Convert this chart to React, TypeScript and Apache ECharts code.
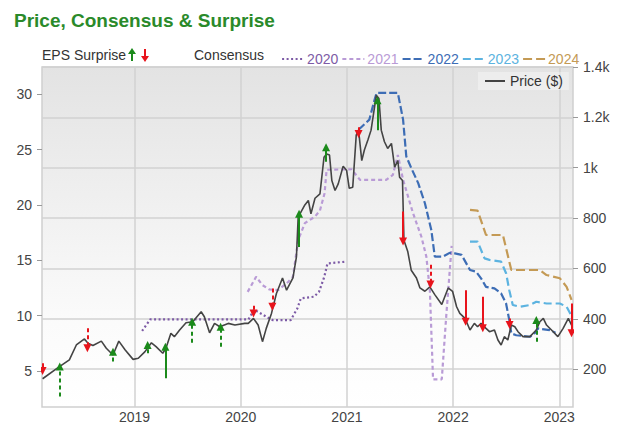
import React, { useEffect, useRef } from 'react';
import * as echarts from 'echarts';

// ---------- data ----------
const xStart = '2018-02-17';
const xEnd = '2023-02-17';
const yearTicks = [2019, 2020, 2021, 2022, 2023];
const priceTicks = [5, 10, 15, 20, 25, 30];
const consensusTicks = [200, 400, 600, 800, 1000, 1200, 1400];

const price: [string, number][] = [
  ['2018-02-19', 4.3], ['2018-04-13', 5.3], ['2018-05-22', 6.0], ['2018-06-15', 7.35], ['2018-07-13', 7.9],
  ['2018-07-25', 7.5], ['2018-08-11', 7.3], ['2018-09-09', 7.7], ['2018-09-26', 7.05], ['2018-10-19', 6.45],
  ['2018-11-08', 7.7], ['2018-11-30', 6.9], ['2018-12-27', 6.05], ['2019-01-14', 6.15], ['2019-02-06', 6.75],
  ['2019-02-28', 7.55], ['2019-03-16', 7.2], ['2019-04-08', 6.6], ['2019-04-19', 7.05], ['2019-05-06', 8.4],
  ['2019-05-18', 8.1], ['2019-06-05', 8.7], ['2019-06-27', 9.35], ['2019-07-20', 9.45], ['2019-08-18', 10.35],
  ['2019-08-29', 9.9], ['2019-09-16', 8.45], ['2019-10-03', 9.3], ['2019-10-21', 9.0], ['2019-11-19', 9.3],
  ['2019-12-12', 9.15], ['2020-01-15', 9.3], ['2020-01-27', 9.3], ['2020-02-14', 9.75], ['2020-03-01', 9.15],
  ['2020-03-16', 7.65], ['2020-03-29', 8.85], ['2020-04-16', 10.2], ['2020-05-03', 12.0], ['2020-05-24', 13.4],
  ['2020-06-07', 12.3], ['2020-06-29', 13.4], ['2020-07-11', 15.3], ['2020-07-17', 18.9], ['2020-08-09', 20.0],
  ['2020-08-21', 20.4], ['2020-08-30', 19.2], ['2020-09-13', 20.6], ['2020-09-30', 21.0], ['2020-10-14', 24.3],
  ['2020-10-23', 24.6], ['2020-11-02', 24.5], ['2020-11-10', 22.2], ['2020-11-21', 21.3], ['2020-12-02', 21.9],
  ['2020-12-19', 23.5], ['2020-12-31', 23.1], ['2021-01-09', 21.5], ['2021-01-21', 21.6], ['2021-02-02', 26.3],
  ['2021-02-10', 26.75], ['2021-02-21', 24.0], ['2021-03-02', 24.95], ['2021-03-14', 25.85], ['2021-03-25', 26.75],
  ['2021-04-06', 28.85], ['2021-04-12', 29.9], ['2021-04-21', 29.6], ['2021-04-29', 26.75], ['2021-05-10', 25.7],
  ['2021-05-21', 25.1], ['2021-06-03', 25.55], ['2021-06-14', 23.4], ['2021-06-25', 24.0], ['2021-07-01', 22.5],
  ['2021-07-11', 22.2], ['2021-07-16', 16.8], ['2021-07-29', 15.8], ['2021-08-10', 14.1], ['2021-08-28', 13.4],
  ['2021-09-09', 12.5], ['2021-09-26', 12.2], ['2021-10-13', 12.6], ['2021-10-30', 11.9], ['2021-11-23', 11.0],
  ['2021-12-15', 12.5], ['2021-12-30', 12.2], ['2022-01-13', 10.8], ['2022-01-24', 10.2], ['2022-02-11', 9.75],
  ['2022-02-28', 8.7], ['2022-03-15', 9.3], ['2022-03-26', 9.0], ['2022-04-07', 9.3], ['2022-04-24', 8.85],
  ['2022-05-06', 8.55], ['2022-05-23', 8.7], ['2022-06-04', 7.8], ['2022-06-15', 7.35], ['2022-06-26', 8.1],
  ['2022-07-08', 7.8], ['2022-07-20', 9.15], ['2022-08-01', 9.0], ['2022-08-12', 8.55], ['2022-08-29', 8.1],
  ['2022-09-22', 8.1], ['2022-10-14', 8.7], ['2022-10-26', 9.45], ['2022-11-07', 9.75], ['2022-11-18', 9.15],
  ['2022-12-05', 8.7], ['2022-12-27', 8.1], ['2023-01-14', 8.85], ['2023-02-01', 9.75], ['2023-02-12', 9.15],
];

const consensus2020: [string, number][] = [
  ['2019-01-27', 352], ['2019-02-24', 398], ['2020-01-28', 398], ['2020-02-16', 437], ['2020-04-08', 402],
  ['2020-04-20', 395], ['2020-06-21', 395], ['2020-07-14', 441], ['2020-07-26', 481], ['2020-09-10', 488],
  ['2020-09-27', 508], ['2020-10-15', 567], ['2020-10-26', 620], ['2020-12-28', 627],
];
const consensus2021: [string, number][] = [
  ['2020-01-25', 507], ['2020-02-23', 567], ['2020-03-16', 534], ['2020-04-08', 517], ['2020-05-09', 514],
  ['2020-06-13', 547], ['2020-06-29', 567], ['2020-07-17', 713], ['2020-08-09', 780], ['2020-09-13', 806],
  ['2020-09-30', 830], ['2020-10-16', 899], ['2020-10-23', 992], ['2021-01-17', 994], ['2021-02-15', 952],
  ['2021-05-16', 952], ['2021-06-08', 972], ['2021-06-25', 1051], ['2021-07-13', 952], ['2021-08-16', 820],
  ['2021-09-14', 726], ['2021-10-01', 647], ['2021-10-13', 514], ['2021-10-24', 160], ['2021-11-23', 160],
  ['2021-12-09', 422], ['2021-12-27', 690],
];
const consensus2022: [string, number][] = [
  ['2021-02-10', 1151], ['2021-03-19', 1191], ['2021-04-06', 1270], ['2021-04-13', 1297], ['2021-06-25', 1297],
  ['2021-07-13', 1191], ['2021-07-24', 1045], ['2021-08-10', 999], ['2021-09-03', 939], ['2021-09-26', 859],
  ['2021-10-18', 753], ['2021-10-30', 647], ['2021-11-27', 647], ['2021-12-20', 662], ['2022-01-07', 660],
  ['2022-01-30', 654], ['2022-02-28', 594], ['2022-03-21', 587], ['2022-04-07', 561], ['2022-04-24', 527],
  ['2022-05-23', 521], ['2022-06-15', 501], ['2022-07-02', 461], ['2022-07-13', 395], ['2022-07-20', 342],
  ['2022-08-06', 335], ['2022-09-22', 329], ['2022-10-08', 342], ['2022-10-19', 362], ['2022-11-29', 355],
  ['2022-12-19', 345],
];
const consensus2023: [string, number][] = [
  ['2022-02-28', 707], ['2022-03-26', 707], ['2022-04-19', 640], ['2022-05-06', 634], ['2022-06-15', 627],
  ['2022-07-02', 581], ['2022-07-13', 514], ['2022-07-25', 455], ['2022-08-18', 448], ['2022-09-22', 455],
  ['2022-10-14', 468], ['2022-11-18', 461], ['2023-01-03', 461], ['2023-01-26', 448], ['2023-02-07', 422],
  ['2023-02-12', 402],
];
const consensus2024: [string, number][] = [
  ['2022-02-28', 833], ['2022-03-26', 830], ['2022-04-24', 733], ['2022-06-21', 733], ['2022-07-20', 594],
  ['2022-10-26', 594], ['2022-11-18', 574], ['2023-01-03', 561], ['2023-01-26', 527], ['2023-02-12', 475],
];

// EPS surprise arrows: date, price where arrow starts, price where arrow head ends, line type
const surpriseDates = [
  '2018-02-19', '2018-04-19', '2018-07-23', '2018-10-19', '2019-02-15', '2019-04-17', '2019-07-18',
  '2019-10-24', '2020-02-14', '2020-04-19', '2020-07-20', '2020-10-21', '2021-02-10', '2021-04-16',
  '2021-07-13', '2021-10-15', '2022-02-13', '2022-04-13', '2022-07-14', '2022-10-14', '2023-02-12',
];
const surpriseFrom = [5.7, 2.7, 8.85, 5.85, 6.6, 4.35, 7.55, 7.2, 10.9, 12.45, 16.2, 23.9, 27.0, 26.75, 19.4, 14.6, 12.3, 11.7, 9.75, 7.65, 11.1];
const surpriseTo = [5.0, 5.4, 7.05, 6.75, 7.35, 7.2, 9.45, 9.0, 10.2, 10.8, 19.2, 25.2, 26.4, 29.45, 16.7, 12.8, 9.45, 8.85, 9.15, 9.6, 8.4];
const surpriseLine = ['dashed', 'dashed', 'dashed', 'dashed', 'dashed', 'solid', 'dashed', 'dashed', 'dashed', 'dashed', 'solid',
  'solid', 'dashed', 'solid', 'solid', 'dashed', 'solid', 'solid', 'dashed', 'dashed', 'solid'];

const consensusNames = ['2020', '2021', '2022', '2023', '2024'];
const consensusSeries = [consensus2020, consensus2021, consensus2022, consensus2023, consensus2024];

// ---------- styles ----------
const consensusColors = ['#7d5ba6', '#b99bd6', '#3d6db5', '#5cb3e0', '#c49a55'];
const consensusDash: any[] = [[2, 2.5], [4, 3], [8, 3], [8, 4], [9, 4]];
const GREEN = '#1b8a1b';
const RED = '#e8141c';
const FONT = 'Liberation Sans, Arial, sans-serif';

const yr = (d: string) => {
  const [y, m, dd] = d.split('-').map(Number);
  const s = Date.UTC(y, 0, 1);
  const e = Date.UTC(y + 1, 0, 1);
  return y + (Date.UTC(y, m - 1, dd) - s) / (e - s);
};

export default function App() {
  const ref = useRef<HTMLDivElement>(null);
  useEffect(() => {
    if (!ref.current) return;
    const chart = echarts.init(ref.current, undefined, { renderer: 'svg' });

    const arrowData = (up: boolean) =>
      surpriseDates
        .map((d, i) => ({ d, i }))
        .filter(({ i }) => (surpriseTo[i] > surpriseFrom[i]) === up)
        .map(({ d, i }) => ({
          coords: [[yr(d), surpriseFrom[i]], [yr(d), surpriseTo[i]]],
          lineStyle: { type: surpriseLine[i] === 'dashed' ? [4, 3] : 'solid' },
        }));

    const option: any = {
      animation: false,
      textStyle: { fontFamily: FONT },
      title: {
        text: 'Price, Consensus & Surprise',
        left: 9,
        top: 6,
        textStyle: { color: '#2a8a2a', fontSize: 19, fontWeight: 'bold', fontFamily: FONT },
      },
      grid: {
        left: 42, right: 47, top: 67, bottom: 41,
        show: true,
        borderColor: '#cfcfcf',
        borderWidth: 1.5,
        backgroundColor: new echarts.graphic.LinearGradient(0, 0, 0, 1, [
          { offset: 0, color: '#e3e3e3' },
          { offset: 0.75, color: '#fbfbfb' },
          { offset: 1, color: '#ffffff' },
        ]),
      },
      legend: [
        {
          data: consensusNames.map((n, i) => ({ name: n, textStyle: { color: consensusColors[i] } })),
          left: 276, top: 47,
          itemWidth: 22, itemHeight: 14, itemGap: 3,
          itemStyle: { opacity: 0 },
          lineStyle: { width: 2.2 },
          textStyle: { fontSize: 14, fontFamily: FONT, padding: [0, 0, 0, -2] },
          selectedMode: false,
        },
        {
          data: ['Price ($)'],
          left: 478, top: 72,
          itemWidth: 20, itemHeight: 14, itemGap: 4,
          padding: [2, 6],
          itemStyle: { opacity: 0 },
          lineStyle: { width: 2 },
          backgroundColor: 'rgba(255,255,255,0.35)',
          textStyle: { fontSize: 14, color: '#333', fontFamily: FONT },
          selectedMode: false,
        },
      ],
      graphic: [
        { type: 'text', x: 42, y: 55, style: { text: 'EPS Surprise', fontSize: 14, fontFamily: FONT, fill: '#333', verticalAlign: 'middle' } },
        { type: 'line', shape: { x1: 132, y1: 61, x2: 132, y2: 52 }, style: { stroke: GREEN, lineWidth: 2 } },
        { type: 'polygon', shape: { points: [[128, 54], [136, 54], [132, 48]] }, style: { fill: GREEN } },
        { type: 'line', shape: { x1: 145, y1: 49, x2: 145, y2: 58 }, style: { stroke: RED, lineWidth: 2 } },
        { type: 'polygon', shape: { points: [[141, 56], [149, 56], [145, 62]] }, style: { fill: RED } },
        { type: 'text', x: 194, y: 55, style: { text: 'Consensus', fontSize: 14, fontFamily: FONT, fill: '#333', verticalAlign: 'middle' } },
      ],
      xAxis: {
        type: 'value',
        min: yr(xStart),
        max: yr(xEnd),
        axisLine: { show: false },
        axisTick: { show: false, customValues: yearTicks },
        axisLabel: {
          customValues: yearTicks,
          formatter: (v: number) => String(Math.round(v)),
          color: '#444', fontSize: 14, margin: 3, fontFamily: FONT,
        },
        splitLine: { show: true, lineStyle: { color: '#d2d2d2', width: 1.5 } },
      },
      yAxis: [
        {
          type: 'value',
          position: 'left',
          min: 1.75,
          max: 32.45,
          axisLine: { show: false },
          axisTick: { show: true, length: 5, customValues: priceTicks, lineStyle: { color: '#999' } },
          axisLabel: { customValues: priceTicks, color: '#444', fontSize: 14, margin: 10, fontFamily: FONT },
          splitLine: { show: false },
        },
        {
          type: 'value',
          position: 'right',
          min: 50,
          max: 1400,
          axisLine: { show: false },
          axisTick: { show: true, length: 5, customValues: consensusTicks, lineStyle: { color: '#999' } },
          axisLabel: {
            customValues: consensusTicks,
            formatter: (v: number) => (v >= 1000 ? v / 1000 + 'k' : String(v)),
            color: '#444', fontSize: 14, margin: 10, fontFamily: FONT,
          },
          splitLine: { show: true, lineStyle: { color: '#d2d2d2', width: 1.5 } },
        },
      ],
      series: [
        ...consensusSeries.map((s, i) => ({
          name: consensusNames[i],
          type: 'line',
          yAxisIndex: 1,
          symbol: 'none',
          color: consensusColors[i],
          lineStyle: { color: consensusColors[i], width: 2.2, type: consensusDash[i] },
          data: s.map(([d, v]) => [yr(d), v]),
          z: 2,
        })),
        {
          name: 'Price ($)',
          type: 'line',
          yAxisIndex: 0,
          symbol: 'none',
          color: '#555',
          lineStyle: { color: '#444', width: 1.6 },
          data: price.map(([d, v]) => [yr(d), v]),
          z: 3,
        },
        {
          name: 'surprise-up',
          type: 'lines',
          coordinateSystem: 'cartesian2d',
          xAxisIndex: 0,
          yAxisIndex: 0,
          symbol: ['none', 'triangle'],
          symbolSize: 8,
          lineStyle: { color: GREEN, width: 2, opacity: 1 },
          data: arrowData(true),
          z: 5,
        },
        {
          name: 'surprise-down',
          type: 'lines',
          coordinateSystem: 'cartesian2d',
          xAxisIndex: 0,
          yAxisIndex: 0,
          symbol: ['none', 'triangle'],
          symbolSize: 8,
          lineStyle: { color: RED, width: 2, opacity: 1 },
          data: arrowData(false),
          z: 5,
        },
      ],
    };
    chart.setOption(option);
    return () => chart.dispose();
  }, []);
  return <div ref={ref} style={{ width: 620, height: 448, position: 'absolute', left: 0, top: 0, background: '#fff' }} />;
}
